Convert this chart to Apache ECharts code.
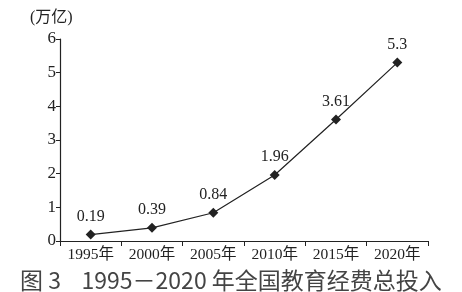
<!DOCTYPE html>
<html><head><meta charset="utf-8">
<script src="https://cdn.jsdelivr.net/npm/echarts@6/dist/echarts.min.js"></script>
<style>html,body{margin:0;padding:0;background:#fff}#c{width:462px;height:292px}</style>
</head><body><div id="c"></div>
<script>
const categories = ['1995年','2000年','2005年','2010年','2015年','2020年'];
const values = [0.19, 0.39, 0.84, 1.96, 3.61, 5.3];
const valueLabels = ['0.19','0.39','0.84','1.96','3.61','5.3'];
const yTicks = [0,1,2,3,4,5,6];
const unitText = '(万亿)';
const captionText = '图 3    1995－2020 年全国教育经费总投入';

const serif = '"Liberation Serif","Noto Sans CJK SC",serif';
const chart = echarts.init(document.getElementById('c'));
chart.setOption({
  animation: false,
  backgroundColor: '#fff',
  grid: {left: 60, right: 34, top: 39, bottom: 51},
  title: [{
    text: unitText, left: 25, top: 5,
    textStyle: {fontFamily: serif, fontSize: 16, fontWeight: 'normal', color: '#222'}
  },{
    text: captionText, left: 15, top: 264,
    textStyle: {fontFamily: '"Noto Sans CJK SC",sans-serif', fontSize: 23, fontWeight: 'normal', color: '#444'}
  }],
  xAxis: {
    type: 'category', data: categories, boundaryGap: true,
    axisLine: {lineStyle: {color: '#222', width: 1.2}},
    axisTick: {show: true, length: 5, interval: 0, lineStyle: {color: '#222'}},
    axisLabel: {fontFamily: serif, fontSize: 15.5, color: '#222', margin: 6, interval: 0, hideOverlap: false}
  },
  yAxis: {
    type: 'value', min: yTicks[0], max: yTicks[yTicks.length-1], interval: 1,
    splitLine: {show: false},
    axisLine: {show: true, lineStyle: {color: '#222', width: 1.2}},
    axisTick: {show: true, length: 4, lineStyle: {color: '#222'}},
    axisLabel: {fontFamily: serif, fontSize: 17, color: '#222', margin: 4}
  },
  series: [{
    type: 'line', data: values,
    symbol: 'diamond', symbolSize: 10,
    lineStyle: {color: '#222', width: 1.2},
    itemStyle: {color: '#222'},
    label: {
      show: true, position: 'top', distance: 5,
      fontFamily: serif, fontSize: 16, color: '#222',
      formatter: p => valueLabels[p.dataIndex]
    }
  }]
});
</script></body></html>
